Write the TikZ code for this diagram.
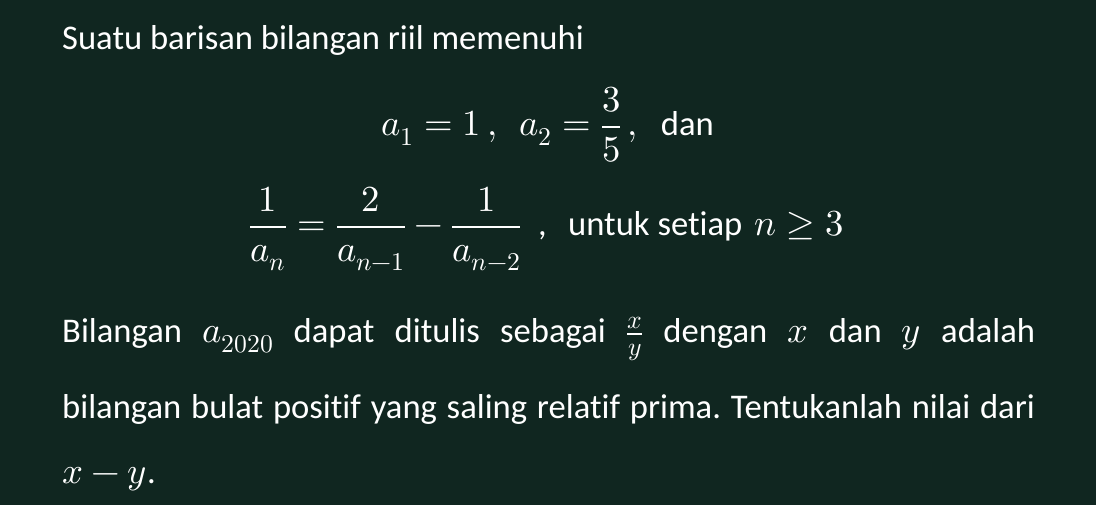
\documentclass[tikz,border=0pt]{standalone}
\usepackage{fontspec}
\usepackage{unicode-math}
\setmainfont{Carlito}[Ligatures=NoCommon]
\setmathfont{Latin Modern Math}[Scale=1.06]
\definecolor{bg}{RGB}{16,38,32}
\frenchspacing
\begin{document}
\begin{tikzpicture}[x=1pt,y=-1pt,
  txt/.style={text=white, inner sep=0pt, anchor=base west, font=\fontsize{34.6}{40}\selectfont}]
\fill[bg] (0,0) rectangle (1096,505);
\useasboundingbox (0,0) rectangle (1096,505);
\node[txt] (l1) at (62,50) {Suatu barisan bilangan riil memenuhi};
\node[txt] (l2a) at (381,136) {$a_1 = 1\,,\ \ a_2 = \dfrac{3}{5}\,,$};
\node[txt, anchor=base east] (l2b) at (714,136) {dan};
\node[txt] (l3a) at (249,236) {$\dfrac{1}{a_n} = \dfrac{2}{a_{n-1}} - \dfrac{1}{a_{n-2}}$};
\node[txt] (l3c) at (538,236) {,};
\node[txt] (l3b) at (568,236) {untuk setiap};
\node[txt, anchor=base east] (l3d) at (844,236) {$n \geq 3$};
\node[txt] (l4) at (62,343) {\makebox[973pt][s]{Bilangan $a_{2020}$ dapat ditulis sebagai $\frac{x}{y}$ dengan $x$ dan $y$ adalah}};
\node[txt] (l5) at (62,418) {\makebox[973pt][s]{bilangan bulat positif yang saling relatif prima. Tentukanlah nilai dari}};
\node[txt] (l6) at (62,483) {$x - y$.};
\end{tikzpicture}
\end{document}
